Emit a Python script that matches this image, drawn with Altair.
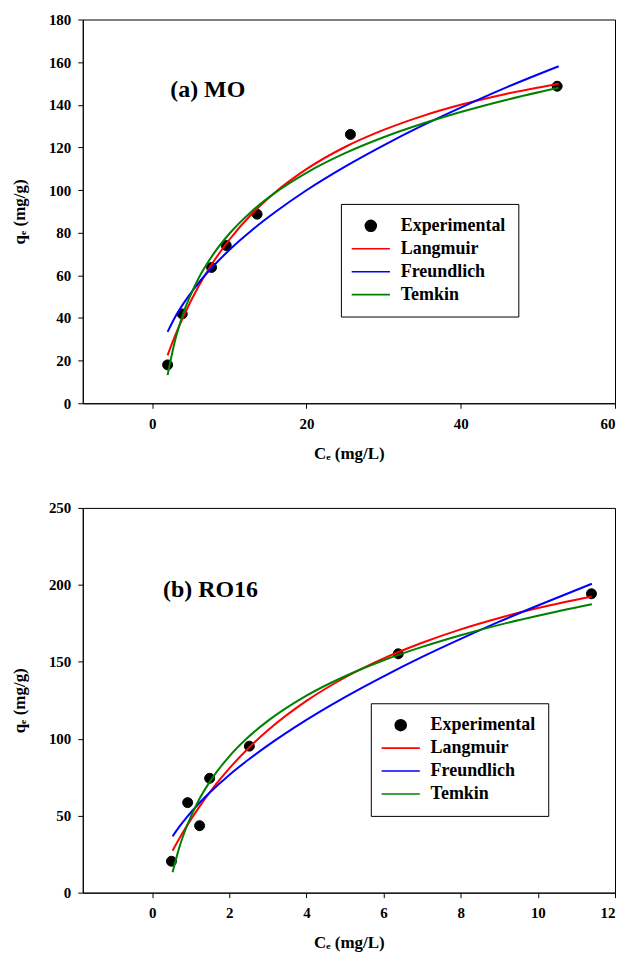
import altair as alt
import pandas as pd

series_names = ["Experimental", "Langmuir", "Freundlich", "Temkin"]
series_colors = ["#000000", "#ff0000", "#0000ff", "#008000"]
line_path = "M-3.5,0L3.5,0"
series_shapes = ["circle", line_path, line_path, line_path]

# (a) MO
mo_ce = [2.0, 3.9, 7.7, 9.6, 13.6, 25.7, 52.5]
mo_qe = [18.0, 41.9, 63.7, 74.0, 88.7, 126.1, 148.7]
mo_fit_ce = [2, 3, 4, 6, 8, 10, 13, 16, 20, 25, 30, 35, 40, 46, 52.7]
mo_langmuir = [22.5, 31.9, 40.3, 54.8, 66.7, 76.7, 89.1, 99.1, 109.8, 120.2, 128.2, 134.7, 140.0, 145.2, 149.9]
mo_freundlich = [33.5, 40.6, 46.5, 56.4, 64.6, 71.9, 81.4, 89.8, 99.9, 111.0, 121.0, 130.2, 138.7, 148.3, 158.1]
mo_temkin = [13.2, 29.9, 41.8, 58.5, 70.3, 79.5, 90.3, 98.9, 108.1, 117.3, 124.8, 131.1, 136.6, 142.4, 148.0]

# (b) RO16
ro_ce = [0.5, 0.92, 1.23, 1.49, 2.52, 6.38, 11.39]
ro_qe = [20.4, 58.5, 43.5, 74.3, 95.2, 155.2, 194.2]
ro_fit_ce = [0.53, 0.7, 0.9, 1.2, 1.5, 2, 2.5, 3, 4, 5, 6, 7, 8, 9, 10, 11.4]
ro_langmuir = [27.3, 35.0, 43.4, 54.9, 65.4, 80.7, 94.0, 105.5, 124.6, 139.8, 152.2, 162.4, 171.1, 178.5, 184.9, 192.5]
ro_freundlich = [36.6, 42.7, 49.1, 57.6, 65.2, 76.5, 86.5, 95.7, 112.3, 127.1, 140.6, 153.2, 164.9, 176.1, 186.6, 200.7]
ro_temkin = [13.3, 29.1, 43.3, 59.7, 72.3, 88.6, 101.3, 111.6, 128.0, 140.6, 151.0, 159.7, 167.3, 174.0, 179.9, 187.4]

FONT = "Liberation Serif"


def panel(ce, qe, fit_ce, lang, freu, temk, xdom, xticks, ydom, yticks,
          label, label_x, label_y, lx, ly, w, h):
    pts = pd.DataFrame({"Ce": ce, "qe": qe, "series": "Experimental"})
    fits = pd.concat([
        pd.DataFrame({"Ce": fit_ce, "qe": vals, "series": name})
        for name, vals in zip(series_names[1:], [lang, freu, temk])
    ])
    ann = pd.DataFrame({"Ce": [label_x], "qe": [label_y], "text": [label]})

    xsc = alt.Scale(domain=xdom, nice=False, zero=False)
    ysc = alt.Scale(domain=ydom, nice=False, zero=False)
    xax = alt.Axis(values=xticks, format="d", title="Cₑ (mg/L)")
    yax = alt.Axis(values=yticks, format="d", title="qₑ (mg/g)")
    x = alt.X("Ce:Q", scale=xsc, axis=xax)
    y = alt.Y("qe:Q", scale=ysc, axis=yax)

    leg = alt.Legend(
        title=None, orient="none", legendX=lx, legendY=ly,
        strokeColor="black", fillColor="white", padding=13,
        symbolOffset=8, labelOffset=21, rowPadding=5,
        labelFont=FONT, labelFontSize=18, labelFontWeight="bold",
        labelColor="black", symbolSize=120, symbolStrokeWidth=1.6,
    )
    dom = series_names
    fill_s = alt.Scale(domain=dom, range=series_colors)
    stroke_s = alt.Scale(domain=dom, range=series_colors)
    shape_s = alt.Scale(domain=dom, range=series_shapes)

    points = alt.Chart(pts).mark_point(filled=True, size=100, opacity=1, strokeWidth=1).encode(
        x=x, y=y,
        fill=alt.Fill("series:N", scale=fill_s, legend=leg),
        stroke=alt.Stroke("series:N", scale=stroke_s, legend=leg),
        shape=alt.Shape("series:N", scale=shape_s, legend=leg),
    )
    lines = alt.Chart(fits).mark_line(strokeWidth=2, interpolate="monotone").encode(
        x=x, y=y,
        stroke=alt.Stroke("series:N", scale=stroke_s, legend=None),
    )
    text = alt.Chart(ann).mark_text(
        font=FONT, fontSize=24, fontWeight="bold", color="black",
        align="center", baseline="middle",
    ).encode(x=x, y=y, text="text:N")
    return alt.layer(points, lines, text).properties(width=w, height=h)


top = panel(mo_ce, mo_qe, mo_fit_ce, mo_langmuir, mo_freundlich, mo_temkin,
            [-9, 60], [0, 20, 40, 60], [0, 180], list(range(0, 181, 20)),
            "(a) MO", 7.2, 146.8, 259, 185, 534, 385)
bottom = panel(ro_ce, ro_qe, ro_fit_ce, ro_langmuir, ro_freundlich, ro_temkin,
               [-1.8, 12], [0, 2, 4, 6, 8, 10, 12], [0, 250], list(range(0, 251, 50)),
               "(b) RO16", 1.51, 196.4, 289, 196, 534, 386)

chart = alt.vconcat(top, bottom, spacing=38).resolve_scale(
    x="independent", y="independent", fill="independent",
    stroke="independent", shape="independent",
).resolve_legend(
    fill="independent", stroke="independent", shape="independent",
).configure_view(
    stroke="black", strokeWidth=1,
).configure_axis(
    grid=False, domainColor="black", tickColor="black", tickSize=5,
    labelFont=FONT, labelFontSize=15, labelFontWeight="bold", labelColor="black",
    titleFont=FONT, titleFontSize=17, titleFontWeight="bold", titleColor="black",
).configure_axisY(
    labelPadding=7, titlePadding=20,
).configure_axisX(
    labelPadding=8, titlePadding=14,
).properties(
    background="white",
    padding={"left": 2, "top": 2, "right": 0, "bottom": 0},
)

chart.save("out.html", embed_options={"renderer": "svg", "actions": False})
